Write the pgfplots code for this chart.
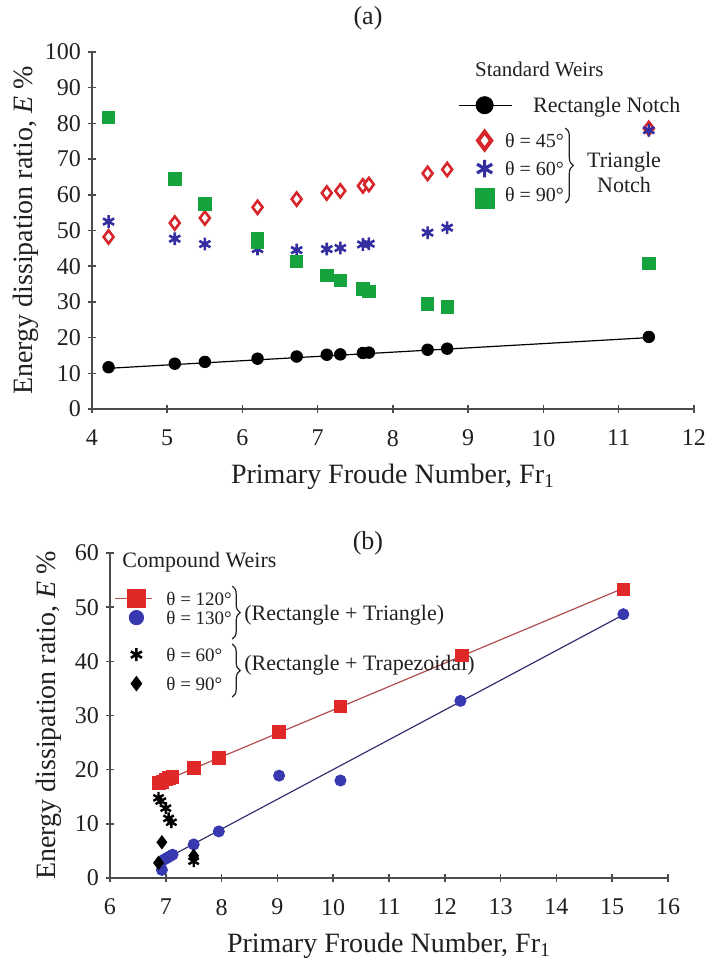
\documentclass[border=0pt]{standalone}
\usepackage{fontspec}
\setmainfont{Liberation Serif}
\usepackage{pgfplots}
\pgfplotsset{compat=1.18}
\usetikzlibrary{decorations.pathreplacing}

\definecolor{redA}{RGB}{214,38,44}
\definecolor{blueA}{RGB}{52,46,160}
\definecolor{greenA}{RGB}{22,163,62}
\definecolor{redB}{RGB}{224,40,40}
\definecolor{redL}{RGB}{176,78,78}
\definecolor{blueB}{RGB}{56,56,176}
\definecolor{blueL}{RGB}{50,50,115}
\definecolor{ink}{RGB}{35,31,32}

\pgfplotsset{
  panel/.style={
    scale only axis,
    axis lines=left,
    axis line style={-, line width=0.75pt, black!70},
    major tick style={line width=0.75pt, black!70},
    major tick length=4pt,
    /pgf/number format/assume math mode=true,
    tick label style={font=\fontsize{12}{14}\selectfont, text=ink},
    xticklabel shift=5pt,
    label style={font=\fontsize{14}{16}\selectfont, text=ink},
    xlabel style={yshift=-2pt},
    title style={font=\fontsize{13}{15}\selectfont, text=ink, at={(0.5,1)}, anchor=center},
    clip=false,
    legend style={draw=none, fill=none, inner sep=0pt, row sep=0pt,
      cells={anchor=base west}, nodes={inner sep=0pt, text depth=, text height=},
      font=\fontsize{10}{12}\selectfont, text=ink, anchor=north west},
  },
  % legend images: line + mark, or mark only
  lineA/.style={legend image code/.code={\path[draw=none] (0pt,0pt) -- (16pt,0pt);
    \draw[mark repeat=2, mark phase=2, ##1, overlay] plot coordinates {(-4.75pt,3.6pt) (8pt,3.6pt) (21.75pt,3.6pt)};}},
  markA/.style={legend image code/.code={\path[draw=none] (0pt,0pt) -- (16pt,0pt);
    \draw[##1, overlay] plot coordinates {(8pt,3.4pt)};}},
  markAlow/.style={legend image code/.code={\path[draw=none] (0pt,0pt) -- (16pt,0pt);
    \draw[##1, overlay] plot coordinates {(8pt,1.5pt)};}},
  lineB/.style={legend image code/.code={\path[draw=none] (0pt,0pt) -- (10pt,0pt);
    \draw[mark repeat=2, mark phase=2, ##1, overlay] plot coordinates {(-5.5pt,3.4pt) (5pt,3.4pt) (13pt,3.4pt)};}},
  markB/.style={legend image code/.code={\path[draw=none] (0pt,0pt) -- (10pt,0pt);
    \draw[##1, overlay] plot coordinates {(5pt,3.4pt)};}},
}

\begin{document}
\begin{tikzpicture}
\useasboundingbox (0,0) rectangle (353.5pt,-480pt);

% ---- (a) standard weirs
\begin{axis}[panel,
  at={(46pt,-204.5pt)}, anchor=south west,
  width=301pt, height=178.5pt,
  xmin=4, xmax=12, ymin=0, ymax=100,
  xtick={4,...,12}, ytick={0,10,...,100},
  xlabel={Primary Froude Number, Fr\textsubscript{1}},
  ylabel={Energy dissipation ratio, \textit{E} \%},
  ylabel shift=-3.5pt,
  title={(a)}, title style={yshift=11pt, xshift=-12.5pt},
  legend style={at={(axis cs:9.0,83.2)}, column sep=2.25pt},
]
% rectangle notch + trend line
\addplot[forget plot, black, line width=0.6pt] coordinates {(4.22,11.4) (11.4,20.0)};
\addplot[forget plot, only marks, mark=*, mark size=2.9pt, black] coordinates {
  (4.22,11.7) (5.1,12.7) (5.5,13.2) (6.2,14.1) (6.72,14.7) (7.12,15.2)
  (7.3,15.3) (7.6,15.7) (7.68,15.8) (8.46,16.6) (8.72,16.9) (11.4,20.2)};
% theta = 45
\addplot[forget plot, only marks, mark=diamond*, mark size=3.3pt,
  mark options={fill=white, draw=redA, line width=1.3pt}] coordinates {
  (4.22,48.2) (5.1,52.1) (5.5,53.5) (6.2,56.5) (6.72,58.8) (7.12,60.5)
  (7.3,61.1) (7.6,62.5) (7.68,62.9) (8.46,66.0) (8.72,67.1) (11.4,78.6)};
% theta = 60
\addplot[forget plot, only marks, mark=asterisk, mark size=3.2pt,
  mark options={draw=blueA, line width=1.3pt}] coordinates {
  (4.22,52.5) (5.1,47.7) (5.5,46.2) (6.2,44.8) (6.72,44.5) (7.12,44.8)
  (7.3,45.1) (7.6,46.1) (7.68,46.3) (8.46,49.4) (8.72,50.8) (11.4,78.1)};
% theta = 90
\addplot[forget plot, only marks, mark=square*, mark size=3.1pt,
  mark options={fill=greenA, draw=greenA}] coordinates {
  (4.22,81.7) (5.1,64.5) (5.5,57.4) (6.2,47.7) (6.2,46.8) (6.72,41.4)
  (7.12,37.4) (7.3,36.0) (7.6,33.7) (7.68,32.9) (8.46,29.4) (8.72,28.6) (11.4,40.8)};

\addlegendimage{lineA, black, line width=0.6pt, mark=*, mark size=4.2pt}
\addlegendentry{\raisebox{0pt}[0pt][17.5pt]{\fontsize{11}{13}\selectfont\hspace*{14pt}Rectangle Notch}}
\addlegendimage{markA, only marks, mark=diamond*, mark size=4.4pt,
  mark options={fill=white, draw=redA, line width=2pt}}
\addlegendentry{\raisebox{0pt}[0pt][14pt]{θ = 45°}}
\addlegendimage{markA, only marks, mark=asterisk, mark size=4.4pt,
  mark options={draw=blueA, line width=1.6pt}}
\addlegendentry{\raisebox{0pt}[0pt][12.5pt]{θ = 60°}}
\addlegendimage{markAlow, only marks, mark=square*, mark size=4.8pt,
  mark options={fill=greenA, draw=greenA}}
\addlegendentry{\raisebox{0pt}[0pt][0pt]{θ = 90°}}

\node[anchor=west, font=\fontsize{10.5}{12}\selectfont, text=ink, inner sep=0pt]
  at (axis cs:9.086,95.0) {Standard Weirs};
\draw[decorate, decoration={brace, amplitude=4pt}, line width=0.6pt, ink]
  (axis cs:10.29,78.7) -- (axis cs:10.29,57.7);
\node[align=center, font=\fontsize{11}{12.5}\selectfont, text=ink, inner sep=0pt]
  at (axis cs:11.07,66.2) {Triangle\\Notch};
\end{axis}

% ---- (b) compound weirs
\begin{axis}[panel,
  at={(55pt,-439pt)}, anchor=south west,
  width=279pt, height=162.5pt,
  xmin=6, xmax=16, ymin=0, ymax=60,
  xtick={6,...,16}, ytick={0,10,...,60},
  xlabel={Primary Froude Number, Fr\textsubscript{1}},
  ylabel={Energy dissipation ratio, \textit{E} \%},
  title={(b)}, title style={yshift=-1pt, xshift=-10.5pt},
  legend style={at={(axis cs:6.287,50.4)}, column sep=10pt,
    font=\fontsize{9.5}{11}\selectfont},
]
% fitted lines
\addplot[forget plot, redL, line width=0.6pt] coordinates {(6.87,17.5) (15.2,53.5)};
\addplot[forget plot, blueL, line width=0.6pt] coordinates {(6.9,3.0) (15.2,48.6)};
% theta = 120, rectangle + triangle
\addplot[forget plot, only marks, mark=square*, mark size=3.2pt,
  mark options={fill=redB, draw=redB}] coordinates {
  (6.87,17.5) (6.94,17.8) (7.0,18.2) (7.06,18.5) (7.12,18.6) (7.5,20.3)
  (7.95,22.2) (9.02,27.0) (10.13,31.7) (12.3,41.1) (15.2,53.3)};
% theta = 130, rectangle + triangle
\addplot[forget plot, only marks, mark=*, mark size=2.8pt,
  mark options={fill=blueB, draw=blueB}] coordinates {
  (6.93,1.5) (6.97,3.4) (7.02,3.7) (7.07,4.0) (7.12,4.3) (7.5,6.2)
  (7.95,8.6) (9.03,18.9) (10.13,18.0) (12.28,32.7) (15.2,48.7)};
% theta = 60, rectangle + trapezoidal
\addplot[forget plot, only marks, mark=asterisk, mark size=3pt,
  mark options={draw=black, line width=1.2pt}] coordinates {
  (6.87,14.8) (6.91,14.2) (7.0,12.9) (7.05,11.0) (7.1,10.3) (7.5,3.1)};
% theta = 90, rectangle + trapezoidal
\addplot[forget plot, only marks, mark=diamond*, mark size=3.3pt,
  mark options={fill=black, draw=black}] coordinates {
  (6.93,6.6) (6.87,2.8) (7.5,4.1)};

\addlegendimage{lineB, redL, line width=0.6pt, mark=square*, mark size=4.6pt,
  mark options={fill=redB, draw=redB}}
\addlegendentry{\raisebox{0pt}[0pt][9.5pt]{θ = 120°}}
\addlegendimage{markB, only marks, mark=*, mark size=3.6pt,
  mark options={fill=blueB, draw=blueB}}
\addlegendentry{\raisebox{0pt}[0pt][18.5pt]{θ = 130°}}
\addlegendimage{markB, only marks, mark=asterisk, mark size=3.2pt,
  mark options={draw=black, line width=1.3pt}}
\addlegendentry{\raisebox{0pt}[0pt][14pt]{θ = 60°}}
\addlegendimage{markB, only marks, mark=diamond*, mark size=3.6pt,
  mark options={fill=black, draw=black}}
\addlegendentry{\raisebox{0pt}[0pt][0pt]{θ = 90°}}

\node[anchor=west, font=\fontsize{11}{12}\selectfont, text=ink, inner sep=0pt]
  at (axis cs:6.215,58.3) {Compound Weirs};
\draw[decorate, decoration={brace, amplitude=4pt}, line width=0.6pt, ink]
  (axis cs:8.19,53.9) -- (axis cs:8.19,44.1);
\draw[decorate, decoration={brace, amplitude=4pt}, line width=0.6pt, ink]
  (axis cs:8.19,43.2) -- (axis cs:8.19,33.4);
\node[anchor=west, font=\fontsize{11}{12.5}\selectfont, text=ink, inner sep=0pt]
  at (axis cs:8.40,48.5) {(Rectangle + Triangle)};
\node[anchor=west, font=\fontsize{11}{12.5}\selectfont, text=ink, inner sep=0pt]
  at (axis cs:8.40,39.2) {(Rectangle + Trapezoidal)};
\end{axis}
\end{tikzpicture}
\end{document}
